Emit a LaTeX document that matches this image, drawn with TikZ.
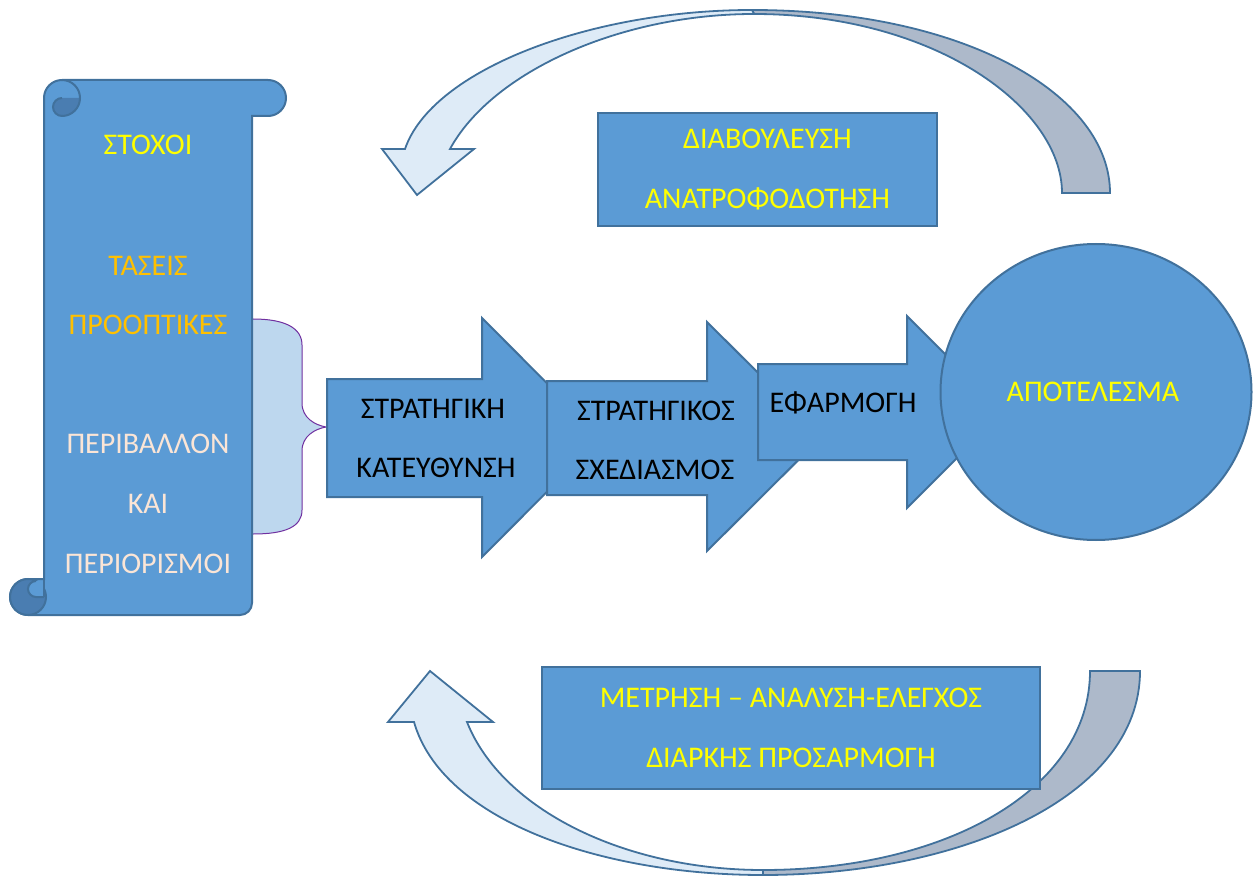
\documentclass[tikz,border=0pt]{standalone}
\usepackage{fontspec}
\setmainfont{Carlito}
\usetikzlibrary{shapes.geometric}
\definecolor{fillblue}{HTML}{5B9BD5}
\definecolor{edgeblue}{HTML}{41719C}
\definecolor{curldark}{HTML}{4A7DB1}
\definecolor{paleblue}{HTML}{DEEBF7}
\definecolor{greyband}{HTML}{ADB9CA}
\definecolor{bracefill}{HTML}{BDD7EE}
\definecolor{bracepurple}{HTML}{7030A0}
\definecolor{goldtext}{HTML}{FFC000}
\definecolor{peachtext}{HTML}{FBE5D6}
\definecolor{yellowtext}{HTML}{FFFF00}
\begin{document}
\begin{tikzpicture}[x=1pt,y=-1pt,
  shapeline/.style={draw=edgeblue,line width=2pt,line join=miter},
  blockarrow/.style={shapeline,fill=fillblue},
  band/.style={draw=edgeblue,line width=1.8pt},
  txt/.style={font=\fontsize{30}{36}\selectfont,inner sep=0pt},
  boxnode/.style={shapeline,fill=fillblue,inner sep=0pt,align=center,
    font=\fontsize{30}{60}\selectfont,text=yellowtext}]
\useasboundingbox (0,0) rectangle (1253,877);
% top curved arrow
\path[band,fill=greyband] (752,10) .. controls (965,10) and (1110,95) .. (1110,193)
  -- (1062,193) .. controls (1062,108) and (935,14) .. (754,14) -- cycle;
\path[band,fill=paleblue] (752,10) .. controls (590,10) and (432,70) .. (405,149)
  -- (382,149) -- (417,195) -- (474,149) -- (450,149)
  .. controls (492,72) and (620,14) .. (754,14) -- cycle;
% bottom curved arrow
\path[band,fill=greyband] (1140,671) .. controls (1140,800) and (955,875) .. (763,875)
  -- (763,870) .. controls (945,870) and (1090,790) .. (1090,671) -- cycle;
\path[band,fill=paleblue] (763,875) .. controls (600,875) and (442,820) .. (414,722)
  -- (388,722) -- (430,671) -- (493,722) -- (467,722)
  .. controls (502,810) and (625,870) .. (763,870) -- cycle;
% boxes
\node[boxnode,minimum width=339,minimum height=113] (consult) at (767.5,169.5)
  {ΔΙΑΒΟΥΛΕΥΣΗ\\ΑΝΑΤΡΟΦΟΔΟΤΗΣΗ};
\node[boxnode,minimum width=498,minimum height=122] (measure) at (791,728)
  {ΜΕΤΡΗΣΗ – ΑΝΑΛΥΣΗ-ΕΛΕΓΧΟΣ\\ΔΙΑΡΚΗΣ ΠΡΟΣΑΡΜΟΓΗ};
% brace
\fill[bracefill] (253,319) .. controls (285,319) and (302,328) .. (302,345) -- (302,403)
  .. controls (302,418) and (315,425) .. (326,427)
  .. controls (315,429) and (302,436) .. (302,451) -- (302,510)
  .. controls (302,527) and (285,534) .. (253,534) -- cycle;
\draw[bracepurple,line width=1pt] (253,319) .. controls (285,319) and (302,328) .. (302,345) -- (302,403)
  .. controls (302,418) and (315,425) .. (326,427)
  .. controls (315,429) and (302,436) .. (302,451) -- (302,510)
  .. controls (302,527) and (285,534) .. (253,534);
% block arrows
\path[blockarrow] (327,379) -- (482,379) -- (482,318) -- (601,437.5) -- (482,557)
  -- (482,497) -- (327,497) -- cycle;
\node[txt] (dir1) at (433,409) {ΣΤΡΑΤΗΓΙΚΗ};
\node[txt] (dir2) at (436,468) {ΚΑΤΕΥΘΥΝΣΗ};
\path[blockarrow] (547,381) -- (707,381) -- (707,322) -- (822,436.5) -- (707,551)
  -- (707,495) -- (547,495) -- cycle;
\node[txt] (plan1) at (656,411) {ΣΤΡΑΤΗΓΙΚΟΣ};
\node[txt] (plan2) at (655,470) {ΣΧΕΔΙΑΣΜΟΣ};
\path[blockarrow] (758,364) -- (907,364) -- (907,316) -- (1003,412) -- (907,508)
  -- (907,460) -- (758,460) -- cycle;
\node[txt] (apply) at (843,403) {ΕΦΑΡΜΟΓΗ};
% result ellipse
\node[ellipse,shapeline,fill=fillblue,minimum width=311,minimum height=296,inner sep=0pt]
  (result) at (1096,392) {};
\node[txt,text=yellowtext] (resulttxt) at (1093,392) {ΑΠΟΤΕΛΕΣΜΑ};
% scroll
\path[shapeline,fill=fillblue] (44,579) -- (44,98) arc[start angle=180,end angle=270,radius=18]
  -- (268,80) arc[start angle=270,end angle=450,radius=18]
  -- (252,116) -- (252,603) arc[start angle=0,end angle=90,radius=12]
  -- (28,615) arc[start angle=90,end angle=270,radius=18] -- cycle;
% top curl
\path[fill=curldark] (80,98) arc[start angle=0,end angle=90,radius=18]
  arc[start angle=90,end angle=270,radius=9] -- cycle;
\draw[edgeblue,line width=2pt] (62,80) arc[start angle=270,end angle=450,radius=18];
\draw[edgeblue,line width=2pt] (62,98) arc[start angle=270,end angle=90,radius=9];
% bottom curl
\path[shapeline,fill=curldark] (28,597) circle[radius=18];
\path[fill=fillblue] (44,581) -- (36,581) arc[start angle=270,end angle=90,radius=8] -- (44,597) -- cycle;
\draw[edgeblue,line width=2pt] (36,581) arc[start angle=270,end angle=90,radius=8] -- (44,597);
\draw[edgeblue,line width=2pt] (28,579) -- (44,579) -- (44,597);
% scroll texts
\node[txt,text=yellowtext] (goals) at (148,145) {ΣΤΟΧΟΙ};
\node[txt,text=goldtext] (trends) at (148,266) {ΤΑΣΕΙΣ};
\node[txt,text=goldtext] (prosp) at (148,325) {ΠΡΟΟΠΤΙΚΕΣ};
\node[txt,text=peachtext] (env) at (148,444) {ΠΕΡΙΒΑΛΛΟΝ};
\node[txt,text=peachtext] (and) at (148,504) {ΚΑΙ};
\node[txt,text=peachtext] (limits) at (148,564) {ΠΕΡΙΟΡΙΣΜΟΙ};
\end{tikzpicture}
\end{document}
